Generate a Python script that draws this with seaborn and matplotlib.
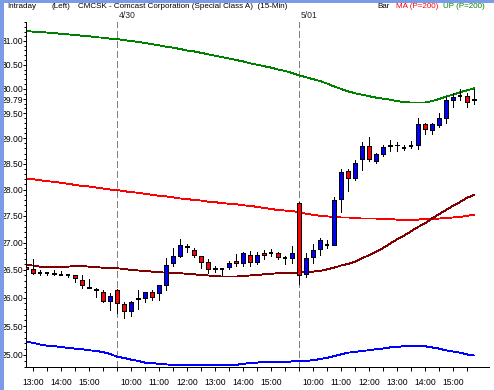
"""Intraday 15-min candlestick chart for CMCSK with 200-period bands."""
import matplotlib
matplotlib.use("Agg")
import matplotlib.pyplot as plt
from matplotlib.patches import Rectangle
from matplotlib.ticker import FixedLocator, FuncFormatter, NullFormatter
import pandas as pd
import seaborn as sns

# sessions of 15-minute bars
session_days = ["4/29", "4/30", "5/01"]
session_first_bar = ["12:45", "09:30", "09:30"]
session_last_bar = "15:45"

opens = [26.55, 26.52, 26.44, 26.45, 26.45, 26.41, 26.40, 26.40, 26.32, 26.20, 26.16, 26.11, 25.95,
         26.14, 25.88, 25.76, 25.98, 25.99, 26.10, 26.09, 26.22, 26.62, 26.76, 26.93, 26.87, 26.75,
         26.64, 26.53, 26.52, 26.55, 26.66, 26.62, 26.78, 26.64, 26.80, 26.80, 26.81, 26.71, 26.72,
         27.75, 26.43, 26.73, 26.88, 26.96, 26.96, 27.81, 28.35, 28.22, 28.59, 28.85, 28.56, 28.69,
         28.85, 28.87, 28.81, 28.84, 28.86, 29.28, 29.17, 29.27, 29.41, 29.78, 29.86, 29.85, 29.78]
highs = [26.58, 26.70, 26.50, 26.46, 26.50, 26.48, 26.41, 26.41, 26.40, 26.34, 26.18, 26.13, 26.09,
         26.16, 25.92, 25.95, 26.13, 26.11, 26.13, 26.23, 26.71, 26.90, 27.07, 26.98, 26.90, 26.76,
         26.70, 26.58, 26.52, 26.67, 26.79, 26.83, 26.84, 26.83, 26.87, 26.89, 26.83, 26.75, 26.94,
         27.76, 26.80, 26.97, 27.09, 27.05, 27.86, 28.40, 28.40, 28.57, 28.93, 29.02, 28.72, 28.86,
         28.97, 28.93, 28.86, 28.95, 29.40, 29.31, 29.31, 29.51, 29.84, 29.92, 29.99, 29.92, 29.99]
lows = [26.50, 26.43, 26.40, 26.40, 26.40, 26.41, 26.38, 26.29, 26.18, 26.17, 26.02, 25.93, 25.78,
        25.73, 25.65, 25.67, 25.80, 25.92, 25.96, 25.96, 26.14, 26.57, 26.74, 26.82, 26.74, 26.54,
        26.44, 26.46, 26.40, 26.52, 26.58, 26.57, 26.58, 26.60, 26.70, 26.75, 26.70, 26.61, 26.62,
        26.24, 26.38, 26.63, 26.77, 26.90, 26.95, 27.58, 27.98, 28.18, 28.38, 28.56, 28.51, 28.66,
        28.75, 28.75, 28.77, 28.80, 28.79, 29.09, 29.09, 29.22, 29.31, 29.62, 29.77, 29.63, 29.70]
closes = [26.52, 26.44, 26.44, 26.45, 26.43, 26.41, 26.40, 26.35, 26.22, 26.18, 26.13, 25.95, 26.03,
          25.91, 25.76, 25.92, 26.00, 26.10, 26.01, 26.22, 26.59, 26.76, 26.95, 26.92, 26.77, 26.65,
          26.51, 26.51, 26.52, 26.62, 26.62, 26.81, 26.64, 26.78, 26.78, 26.80, 26.73, 26.71, 26.81,
          26.40, 26.71, 26.86, 27.05, 26.96, 27.80, 28.33, 28.22, 28.51, 28.85, 28.59, 28.69, 28.83,
          28.87, 28.86, 28.81, 28.84, 29.28, 29.19, 29.28, 29.40, 29.77, 29.83, 29.86, 29.74, 29.79]

ma_200 = [28.21, 28.20, 28.18, 28.16, 28.15, 28.13, 28.11, 28.09, 28.07, 28.06, 28.04, 28.02, 28.00,
          27.99, 27.97, 27.95, 27.94, 27.92, 27.90, 27.88, 27.87, 27.85, 27.83, 27.82, 27.80, 27.79,
          27.77, 27.76, 27.74, 27.73, 27.72, 27.70, 27.69, 27.67, 27.65, 27.63, 27.61, 27.60, 27.59,
          27.57, 27.54, 27.52, 27.50, 27.49, 27.48, 27.47, 27.47, 27.46, 27.45, 27.45, 27.45, 27.44,
          27.44, 27.43, 27.43, 27.43, 27.43, 27.44, 27.44, 27.45, 27.46, 27.47, 27.48, 27.50, 27.52]
upper_band = [31.21, 31.20, 31.19, 31.18, 31.17, 31.15, 31.14, 31.13, 31.11, 31.10, 31.08, 31.07, 31.05,
              31.04, 31.02, 31.00, 30.98, 30.96, 30.93, 30.91, 30.88, 30.86, 30.83, 30.80, 30.78, 30.75,
              30.72, 30.69, 30.66, 30.63, 30.60, 30.57, 30.53, 30.50, 30.47, 30.44, 30.40, 30.37, 30.33,
              30.28, 30.24, 30.20, 30.16, 30.11, 30.05, 30.00, 29.95, 29.91, 29.88, 29.85, 29.82, 29.80,
              29.78, 29.75, 29.73, 29.72, 29.72, 29.72, 29.75, 29.79, 29.84, 29.88, 29.93, 29.97, 30.01]
lower_band = [25.23, 25.21, 25.18, 25.16, 25.15, 25.14, 25.12, 25.11, 25.10, 25.08, 25.07, 25.05, 25.02,
              24.97, 24.95, 24.92, 24.90, 24.87, 24.86, 24.85, 24.84, 24.83, 24.83, 24.83, 24.83, 24.83,
              24.83, 24.83, 24.83, 24.83, 24.83, 24.85, 24.86, 24.87, 24.88, 24.88, 24.88, 24.88, 24.89,
              24.89, 24.90, 24.91, 24.93, 24.95, 24.98, 25.01, 25.04, 25.05, 25.07, 25.08, 25.10, 25.11,
              25.13, 25.14, 25.15, 25.16, 25.16, 25.15, 25.13, 25.11, 25.08, 25.06, 25.04, 25.01, 24.99]
ma_short = [26.59, 26.58, 26.56, 26.55, 26.55, 26.55, 26.56, 26.57, 26.57, 26.56, 26.55, 26.54, 26.53,
            26.53, 26.52, 26.50, 26.49, 26.48, 26.47, 26.46, 26.45, 26.45, 26.44, 26.43, 26.42, 26.41,
            26.40, 26.39, 26.38, 26.38, 26.38, 26.39, 26.40, 26.41, 26.42, 26.43, 26.44, 26.45, 26.45,
            26.45, 26.46, 26.47, 26.48, 26.51, 26.54, 26.58, 26.61, 26.65, 26.71, 26.77, 26.83, 26.90,
            26.98, 27.06, 27.13, 27.21, 27.29, 27.36, 27.45, 27.53, 27.61, 27.69, 27.76, 27.84, 27.90]

y_major = [25.00, 25.50, 26.00, 26.50, 27.00, 27.50, 28.00, 28.50, 29.00, 29.50, 30.00, 30.50, 31.00]
last_price = 29.79

W, H = 494, 390
PX = 0.72  # one pixel in points at 100 dpi
LW = 0.62


def _setup():
    sns.set_theme(style="white")
    plt.rcParams["font.family"] = ["Liberation Sans", "DejaVu Sans"]
    plt.rcParams["lines.antialiased"] = False
    plt.rcParams["patch.antialiased"] = False
    plt.rcParams["lines.scale_dashes"] = False


def build_bars() -> pd.DataFrame:
    rows = []
    for day, first in zip(session_days, session_first_bar):
        for t in pd.date_range(first, session_last_bar, freq="15min"):
            rows.append((day, t.strftime("%H:%M")))
    bars = pd.DataFrame(rows, columns=["day", "time"])
    bars["idx"] = range(len(bars))
    bars["open"], bars["high"], bars["low"], bars["close"] = opens, highs, lows, closes
    bars["ma_200"], bars["upper"], bars["lower"], bars["ma_short"] = ma_200, upper_band, lower_band, ma_short
    return bars


def main():
    _setup()
    bars = build_bars()

    fig = plt.figure(figsize=(W / 100, H / 100), dpi=100, facecolor="white")
    ax = fig.add_axes([26 / W, 1 - 367 / H, (489 - 26) / W, (367 - 22) / H])
    ax.set_facecolor("white")
    ax.set_yscale("log")

    # day separators
    day_starts = bars.groupby("day", sort=False)["idx"].min().iloc[1:]
    for day, i in day_starts.items():
        ax.axvline(i, color="#808080", lw=LW, dashes=(5, 2.2), zorder=1)
        ax.annotate(day, xy=(i, 1), xycoords=("data", "axes fraction"), xytext=(1.4, 4.6),
                    textcoords="offset points", ha="left", va="center", fontsize=6.2,
                    annotation_clip=False)

    sns.lineplot(data=bars, x="idx", y="upper", color="#008000", linewidth=LW, ax=ax, zorder=2)
    sns.lineplot(data=bars, x="idx", y="ma_200", color="#ff0000", linewidth=LW, ax=ax, zorder=2)
    sns.lineplot(data=bars, x="idx", y="lower", color="#0000ff", linewidth=LW, ax=ax, zorder=2)
    sns.lineplot(data=bars, x="idx", y="ma_short", color="#800000", linewidth=LW, ax=ax, zorder=2)

    # candles
    ax.vlines(bars["idx"], bars["low"], bars["high"], color="black", lw=LW, zorder=3,
              antialiased=False)
    up = bars[bars["close"] > bars["open"]]
    down = bars[bars["close"] < bars["open"]]
    flat = bars[bars["close"] == bars["open"]]
    ax.bar(up["idx"], up["close"] - up["open"], bottom=up["open"], width=0.62,
           color="#0000ff", edgecolor="black", linewidth=PX, zorder=4)
    ax.bar(down["idx"], down["open"] - down["close"], bottom=down["close"], width=0.62,
           color="#ff0000", edgecolor="black", linewidth=PX, zorder=4)
    ax.hlines(flat["close"], flat["idx"] - 0.33, flat["idx"] + 0.33, color="black",
              lw=2 * PX, zorder=4, antialiased=False)

    ax.set_xlim(0, 66.15)
    ax.set_ylim(24.795, 31.406)
    ax.set(xlabel="", ylabel="")

    # y axis ticks
    ax.yaxis.set_major_locator(FixedLocator(y_major + [last_price]))
    ax.yaxis.set_major_formatter(FuncFormatter(lambda v, _: f"{v:.2f}"))
    minor = [round(24.8 + 0.1 * k, 2) for k in range(67)]
    ax.yaxis.set_minor_locator(FixedLocator([m for m in minor if m not in y_major]))
    ax.yaxis.set_minor_formatter(NullFormatter())

    # x axis ticks
    hours = bars[bars["time"].str.endswith(":00")]
    halves = bars[bars["time"].str.endswith(":30")]
    ax.set_xticks(hours["idx"])
    ax.set_xticklabels(hours["time"])
    ax.set_xticks(halves["idx"], minor=True)

    ax.tick_params(axis="both", which="both", colors="black", width=PX, direction="out")
    ax.tick_params(axis="y", which="major", left=True, length=2.2, pad=0, labelsize=6.2)
    ax.tick_params(axis="y", which="minor", left=True, length=1.2)
    ax.tick_params(axis="x", which="both", bottom=True, length=2.9, pad=5, labelsize=6.2)

    for side in ("top", "right"):
        ax.spines[side].set_visible(False)
    for side in ("left", "bottom"):
        ax.spines[side].set_color("black")
        ax.spines[side].set_linewidth(PX)

    # header strip
    header = [
        (7, "Intraday", "black"),
        (52, "(Left)", "black"),
        (78, "CMCSK - Comcast Corporation (Special Class A)  (15-Min)", "black"),
        (377, "Bar", "black"),
        (396, "MA (P=200)", "#ff0000"),
        (443, "UP (P=200)", "#008000"),
    ]
    for x, s, c in header:
        fig.text(x / W, 1 - 7 / H, s, color=c, fontsize=5.8, ha="left", va="center")

    # window frame edges
    fig.patches.append(Rectangle((0, 0), 2 / W, 1, transform=fig.transFigure,
                                 color="#7b9be6", zorder=10))
    fig.patches.append(Rectangle((0, 1 - 1 / H), 1, 1 / H, transform=fig.transFigure,
                                 color="#7b9be6", zorder=10))

    fig.savefig("out.png", dpi=100, facecolor="white")
    plt.close(fig)


if __name__ == "__main__":
    main()
